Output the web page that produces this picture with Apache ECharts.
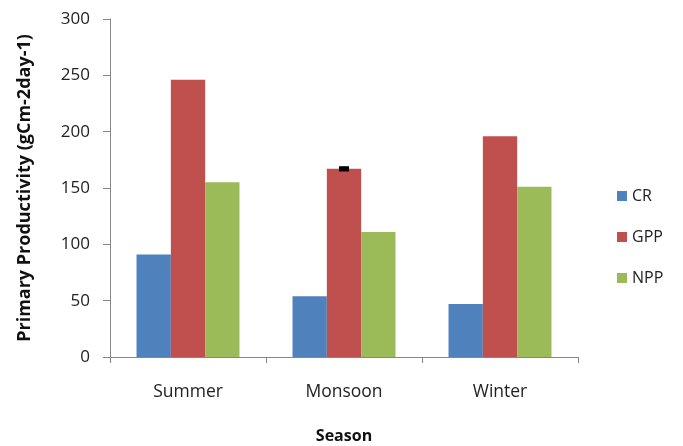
<!DOCTYPE html>
<html>
<head>
<meta charset="utf-8">
<script src="https://cdn.jsdelivr.net/npm/echarts@6/dist/echarts.min.js"></script>
<style>
  html, body { margin: 0; padding: 0; background: #fff; }
  #chart { width: 683px; height: 446px; }
</style>
</head>
<body>
<div id="chart"></div>
<script>
// Seasonal primary productivity (gC m-2 day-1)
const seasons = ['Summer', 'Monsoon', 'Winter'];
const crValues = [91, 54, 47];
const gppValues = [246, 167, 196];
const nppValues = [155, 111, 151];
const gppErrors = [0, 1, 0];
const yTicks = { min: 0, max: 300, interval: 50 };

const FONT = '"Open Sans", "Noto Sans", sans-serif';
const chart = echarts.init(document.getElementById('chart'), null, { renderer: 'canvas' });

// error bar: vertical whisker with a cap over the middle (GPP) bar
function renderErrorBar(params, api) {
  const idx = api.value(0);
  const val = api.value(1);
  const err = api.value(2);
  if (!err) return null;
  const top = api.coord([idx, val + err]);
  const bot = api.coord([idx, val - err]);
  const half = 5;
  return {
    type: 'group',
    children: [
      { type: 'line', shape: { x1: top[0], y1: top[1], x2: bot[0], y2: bot[1] },
        style: { stroke: '#000', lineWidth: 2 } },
      { type: 'line', shape: { x1: top[0] - half, y1: top[1], x2: top[0] + half, y2: top[1] },
        style: { stroke: '#000', lineWidth: 3 } },
      { type: 'line', shape: { x1: bot[0] - half, y1: bot[1], x2: bot[0] + half, y2: bot[1] },
        style: { stroke: '#000', lineWidth: 3 } }
    ]
  };
}

chart.setOption({
  animation: false,
  backgroundColor: '#ffffff',
  textStyle: { fontFamily: FONT },
  grid: { left: 110, right: 105, top: 19, bottom: 89, containLabel: false, outerBoundsMode: 'none' },
  legend: {
    orient: 'vertical',
    left: 612,
    top: 183,
    itemWidth: 10,
    itemHeight: 10,
    itemGap: 25,
    icon: 'rect',
    textStyle: { fontFamily: FONT, fontSize: 16, color: '#222' },
    data: ['CR', 'GPP', 'NPP']
  },
  xAxis: {
    type: 'category',
    data: seasons,
    name: 'Season',
    nameLocation: 'middle',
    nameGap: 71,
    nameTextStyle: { fontFamily: FONT, fontSize: 16, fontWeight: 'bold', color: '#111' },
    axisLine: { lineStyle: { color: '#868686', width: 1 } },
    axisTick: { show: true, length: 6, lineStyle: { color: '#868686' } },
    axisLabel: { fontFamily: FONT, fontSize: 17.5, color: '#222', margin: 26 },
    splitLine: { show: false }
  },
  yAxis: {
    type: 'value',
    min: yTicks.min,
    max: yTicks.max,
    interval: yTicks.interval,
    name: 'Primary Productivity (gCm-2day-1)',
    nameLocation: 'middle',
    nameGap: 76,
    nameTextStyle: { fontFamily: FONT, fontSize: 18, fontWeight: 'bold', color: '#111' },
    axisLine: { show: true, lineStyle: { color: '#868686', width: 1 } },
    axisTick: { show: true, length: 7, lineStyle: { color: '#868686' } },
    axisLabel: { fontFamily: FONT, fontSize: 17, color: '#222', margin: 20 },
    splitLine: { show: false }
  },
  series: [
    { name: 'CR', type: 'bar', data: crValues, barGap: 0, barCategoryGap: '34%',
      itemStyle: { color: '#4F81BD' } },
    { name: 'GPP', type: 'bar', data: gppValues, barGap: 0, barCategoryGap: '34%',
      itemStyle: { color: '#C0504D' } },
    { name: 'NPP', type: 'bar', data: nppValues, barGap: 0, barCategoryGap: '34%',
      itemStyle: { color: '#9BBB59' } },
    { name: 'GPP error', type: 'custom', renderItem: renderErrorBar, z: 10,
      data: gppValues.map((v, i) => [i, v, gppErrors[i]]),
      encode: { x: 0, y: 1 } }
  ]
});
</script>
</body>
</html>
